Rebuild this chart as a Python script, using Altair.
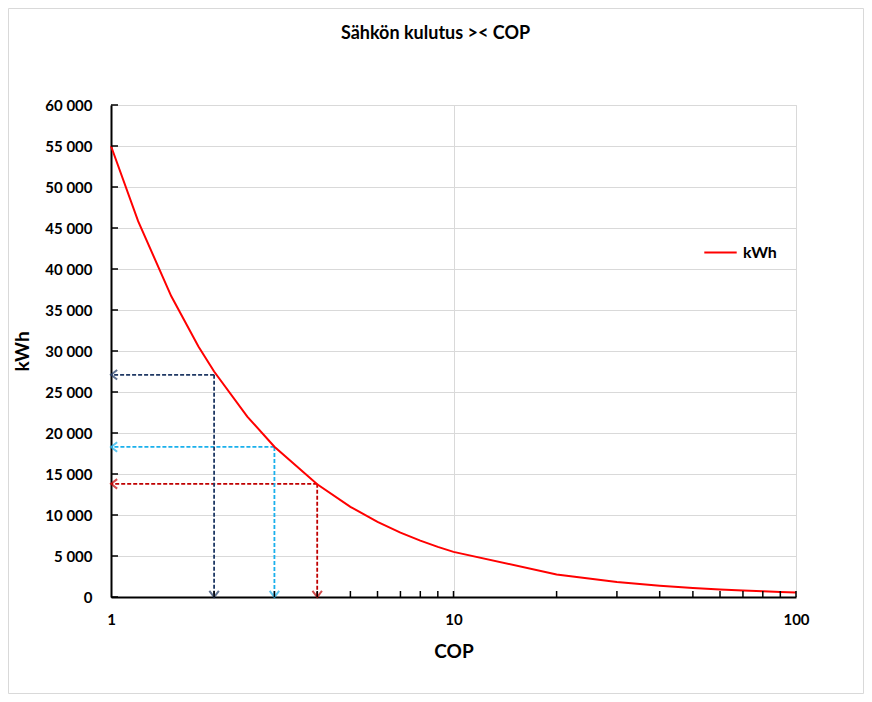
import altair as alt
import pandas as pd

# Curve data
cop = [1, 1.2, 1.5, 1.8, 2, 2.5, 3, 4, 5, 6, 7, 8, 9, 10, 20, 30, 40, 50, 60, 70, 80, 90, 100]
kwh = [55000, 45833, 36667, 30556, 27500, 22000, 18333, 13750, 11000, 9167, 7857, 6875,
       6111, 5500, 2750, 1833, 1375, 1100, 917, 786, 688, 611, 550]

# Dashed guide arrows
guide_cop = [2, 3, 4]
guide_kwh = [27100, 18300, 13800]
guide_color = ["#1f3864", "#1ab0ec", "#c00000"]

# Axis ticks
x_label_values = [1, 10, 100]
x_minor_ticks = [2, 3, 4, 5, 6, 7, 8, 9, 10, 20, 30, 40, 50, 60, 70, 80, 90, 100]
y_tick_values = [0, 5000, 10000, 15000, 20000, 25000, 30000, 35000, 40000, 45000,
                 50000, 55000, 60000]

FONT = "Lato"
W, H = 685, 492

curve_df = pd.DataFrame({"COP": cop, "kWh": kwh, "series": ["kWh"] * len(cop)})
guide_df = pd.DataFrame({"COP": guide_cop, "kWh": guide_kwh, "col": guide_color,
                         "left": [1] * 3, "zero": [0] * 3})
xt_df = pd.DataFrame({"COP": x_minor_ticks})
yt_df = pd.DataFrame({"kWh": y_tick_values})

xscale = alt.Scale(type="log", domain=[1, 100], nice=False)
yscale = alt.Scale(domain=[0, 60000], nice=False)

x_axis = alt.Axis(values=x_label_values, ticks=False, grid=True, gridColor="#d9d9d9",
                  labelFont=FONT, labelFontSize=15, labelFontWeight="bold", labelColor="black",
                  labelPadding=15, labelFlush=False, title="COP", titleFont=FONT,
                  titleFontSize=19, titleFontWeight="bold", titleColor="black",
                  titlePadding=15, format="d", domainColor="black", domainWidth=2)
y_axis = alt.Axis(values=y_tick_values, ticks=False, grid=True, gridColor="#d9d9d9",
                  labelFont=FONT, labelFontSize=15, labelFontWeight="bold", labelColor="black",
                  labelPadding=19,
                  labelExpr="replace(format(datum.value, ','), ',', ' ')",
                  title="kWh", titleFont=FONT, titleFontSize=19, titleFontWeight="bold",
                  titleColor="black", titlePadding=12, domainColor="black", domainWidth=2)

base_curve = alt.Chart(curve_df).mark_line(strokeWidth=2).encode(
    x=alt.X("COP:Q", scale=xscale, axis=x_axis),
    y=alt.Y("kWh:Q", scale=yscale, axis=y_axis),
    color=alt.Color("series:N", scale=alt.Scale(domain=["kWh"], range=["#ff0000"]),
                    legend=alt.Legend(title=None, orient="none", legendX=592, legendY=130,
                                      symbolType="stroke", symbolSize=1050,
                                      symbolStrokeWidth=2, labelFont=FONT, labelFontSize=16,
                                      labelFontWeight="bold", labelColor="black",
                                      labelOffset=5)),
)

h_guides = alt.Chart(guide_df).mark_rule(strokeWidth=1.8, strokeDash=[4, 2]).encode(
    x=alt.X("COP:Q", scale=xscale), x2="left:Q",
    y=alt.Y("kWh:Q", scale=yscale),
    stroke=alt.Stroke("col:N", scale=None),
)
v_guides = alt.Chart(guide_df).mark_rule(strokeWidth=1.8, strokeDash=[4, 2]).encode(
    x=alt.X("COP:Q", scale=xscale),
    y=alt.Y("kWh:Q", scale=yscale), y2="zero:Q",
    stroke=alt.Stroke("col:N", scale=None),
)
left_heads = alt.Chart(guide_df).mark_point(
    shape="M1.3,-1L0,0L1.3,1", size=90, filled=False, strokeWidth=2
).encode(
    x=alt.X("left:Q", scale=xscale),
    y=alt.Y("kWh:Q", scale=yscale),
    stroke=alt.Stroke("col:N", scale=None),
)
down_heads = alt.Chart(guide_df).mark_point(
    shape="M-1,-1.3L0,0L1,-1.3", size=90, filled=False, strokeWidth=2
).encode(
    x=alt.X("COP:Q", scale=xscale),
    y=alt.Y("zero:Q", scale=yscale),
    stroke=alt.Stroke("col:N", scale=None),
)

x_ticks = alt.Chart(xt_df).mark_rule(color="black", strokeWidth=1.5).encode(
    x=alt.X("COP:Q", scale=xscale),
    y=alt.value(H), y2=alt.value(H - 6),
)
y_ticks = alt.Chart(yt_df).mark_rule(color="black", strokeWidth=1.5).encode(
    y=alt.Y("kWh:Q", scale=yscale),
    x=alt.value(0), x2=alt.value(7),
)

frame = alt.Chart(pd.DataFrame({"f": [0]})).mark_rect(
    fill="transparent", stroke="#d9d9d9", strokeWidth=1
).encode(
    x=alt.value(-102.5), x2=alt.value(752.5), y=alt.value(-96.5), y2=alt.value(588.5)
)

chart = alt.layer(
    frame, h_guides, v_guides, base_curve, left_heads, down_heads, x_ticks, y_ticks
).properties(
    width=W, height=H,
    title=alt.Title("Sähkön kulutus >< COP", font=FONT, fontSize=18, fontWeight="bold",
                    color="black", anchor="middle", offset=0, dx=-18, dy=35),
    autosize=alt.AutoSizeParams(type="none"),
    padding={"left": 103, "top": 97, "right": 68, "bottom": 97},
).configure_view(stroke=None).configure(background="white")

chart.save("out.html", embed_options={"renderer": "svg", "actions": False})
